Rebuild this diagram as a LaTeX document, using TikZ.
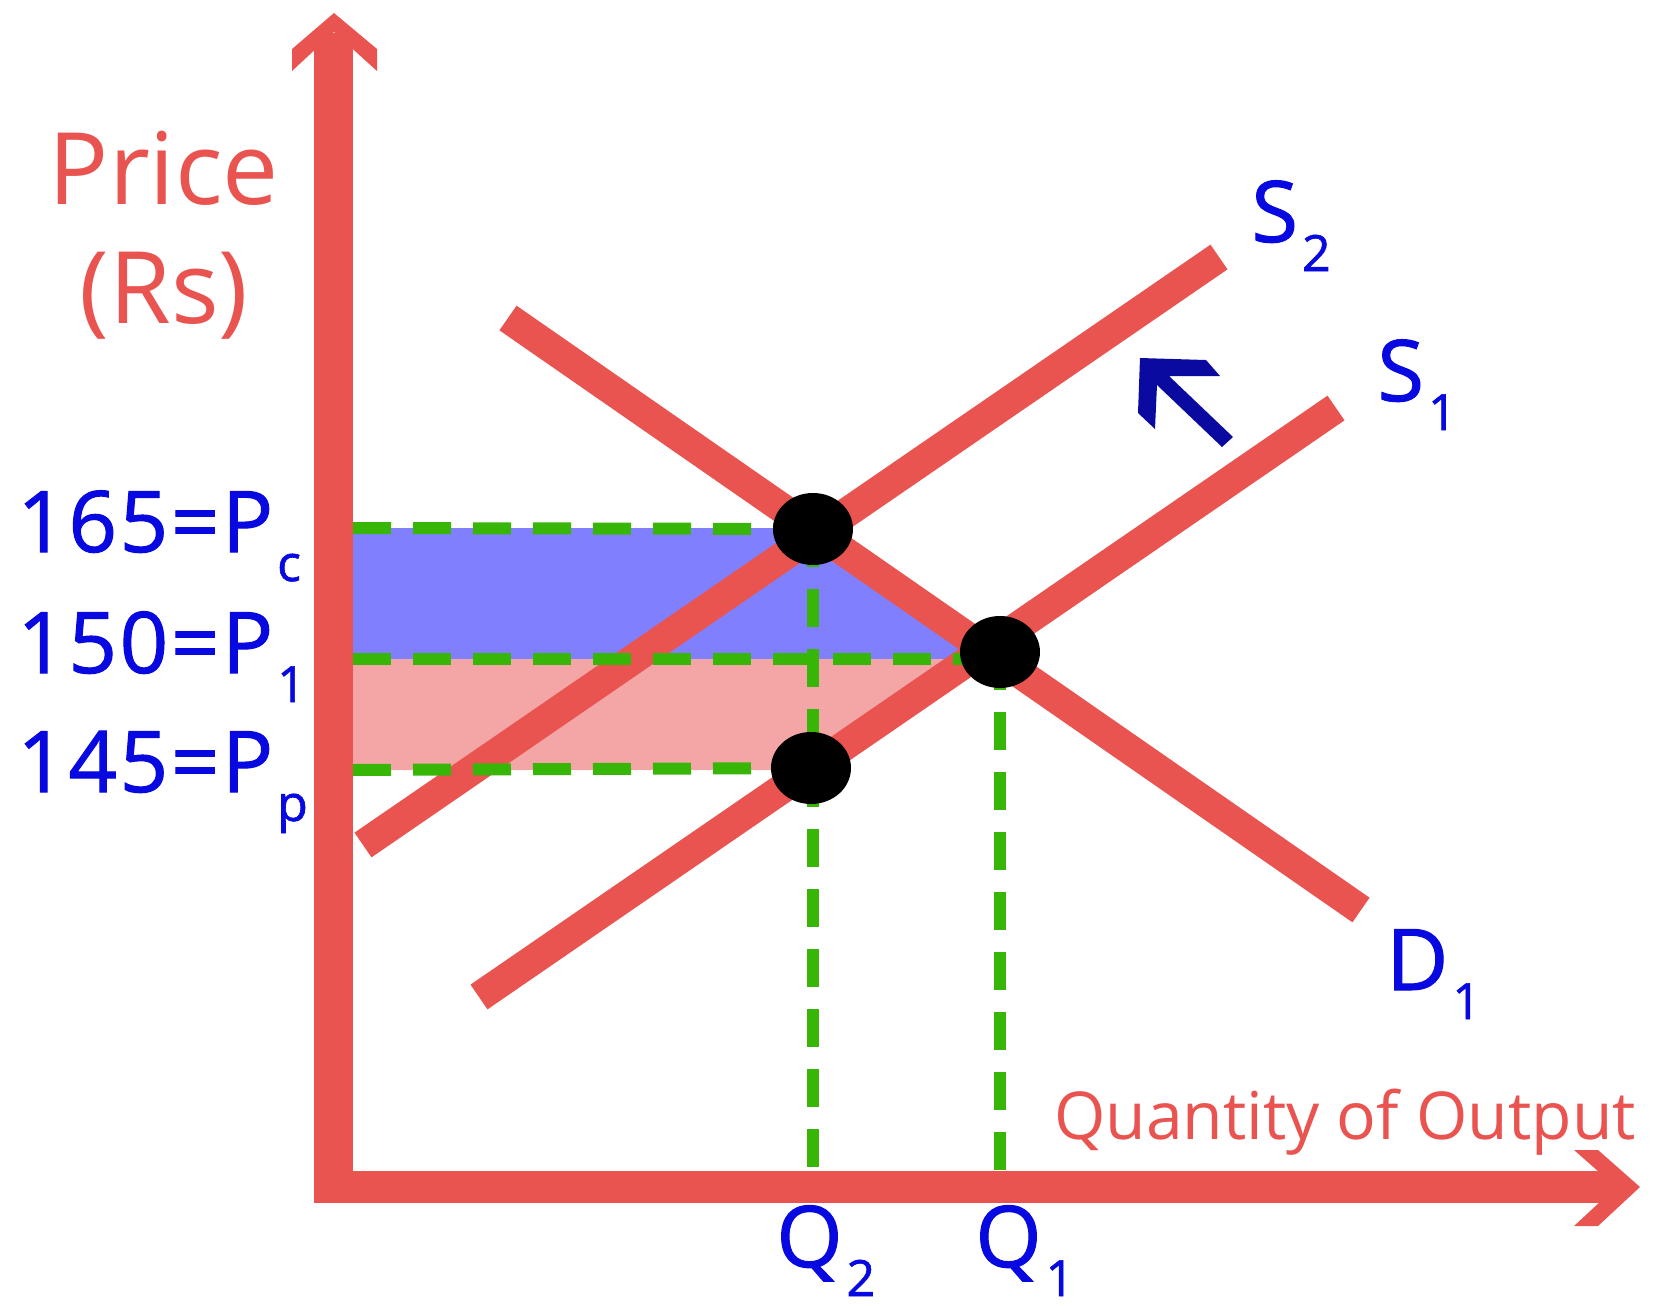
\documentclass[tikz,border=0pt]{standalone}
\usepackage{fontspec}
\setmainfont{Open Sans}
\newfontfamily\labelfont{Open Sans}[FakeBold=1.2,LetterSpace=3]
\definecolor{axred}{RGB}{233,84,80}
\definecolor{bluefill}{RGB}{128,128,255}
\definecolor{pinkfill}{RGB}{244,166,166}
\definecolor{guidegreen}{RGB}{56,182,8}
\definecolor{labelblue}{RGB}{8,8,224}
\definecolor{shiftblue}{RGB}{10,10,160}
\newcommand\lowsub[1]{\kern2pt\raisebox{-14.5pt}{\fontsize{25}{25}\selectfont #1}}
\tikzset{
  curve/.style={draw=axred,line width=15pt,line cap=butt},
  axisfill/.style={fill=axred},
  guide/.style={draw=guidegreen,line width=6pt,dash pattern=on 19pt off 11pt},
  dot/.style={ellipse,fill=black,minimum width=40pt,minimum height=36pt,inner sep=0pt},
  axlabel/.style={text=axred,inner sep=0pt,anchor=base},
  vlabel/.style={text=labelblue,inner sep=0pt,anchor=base west,font=\labelfont\fontsize{42.5}{42.5}\selectfont},
}
\usetikzlibrary{shapes.geometric}
\begin{document}
\begin{tikzpicture}[x=0.5pt,y=-0.5pt]
\useasboundingbox (0,0) rectangle (1661,1306);
% key points
\coordinate (d1a) at (508,318);
\coordinate (d1b) at (1361,910);
\coordinate (s2a) at (363,845);
\coordinate (s2b) at (1219,257);
\coordinate (s1a) at (479,997);
\coordinate (s1b) at (1336,408);
\coordinate (ecp) at (813,529);
\coordinate (e1p) at (1000,652);
\coordinate (epp) at (811,768);
\coordinate (yc) at (353,528);
\coordinate (y1) at (353,659);
\coordinate (yp) at (353,770);
\coordinate (p1end) at (985,659);
\coordinate (xtop) at (0,1171);
% surplus areas
\fill[bluefill] (353,528) -- (813,528) -- (999,659) -- (353,659) -- cycle;
\fill[pinkfill] (353,659) -- (971,659) -- (811,770) -- (353,770) -- cycle;
% axes
\fill[axisfill] (314,33) rectangle (353,1203);
\fill[axisfill] (334,13) -- (377,49) -- (377,71) -- (334,32) -- (292,71) -- (292,49) -- cycle;
\fill[axisfill] (314,1171) rectangle (1618,1203);
\fill[axisfill] (1640,1187) -- (1598,1150) -- (1574,1150) -- (1616,1187) -- (1574,1226) -- (1598,1226) -- cycle;
% curves
\draw[curve] (d1a) -- (d1b);
\draw[curve] (s2a) -- (s2b);
\draw[curve] (s1a) -- (s1b);
% guides
\draw[guide] (yc) -- (ecp);
\draw[guide] (y1) -- (p1end);
\draw[guide] (yp) -- (epp);
\draw[guide] (ecp) -- (ecp |- xtop);
\draw[guide] (e1p) -- (e1p |- xtop);
% equilibrium dots
\node[dot] (ec) at (ecp) {};
\node[dot] (e1) at (e1p) {};
\node[dot] (ep) at (epp) {};
% shift arrow
\fill[shiftblue] (1140,358) -- (1206,360) -- (1220,376) -- (1169,376) -- (1233,437) -- (1222,447) -- (1157,385) -- (1155,429) -- (1138,413) -- cycle;
% axis labels
\node[axlabel,font=\fontsize{50}{50}\selectfont] (price) at (164,204) {Price};
\node[axlabel,font=\fontsize{50}{50}\selectfont] (rs) at (164,323) {(Rs)};
\node[axlabel,font=\fontsize{33}{33}\selectfont] (qty) at (1345,1139) {Quantity of Output};
% price labels
\node[vlabel] (pc) at (17,552) {165=P\lowsub{c}};
\node[vlabel] (p1) at (17,673) {150=P\lowsub{1}};
\node[vlabel] (pp) at (17,792) {145=P\lowsub{p}};
% quantity labels
\node[vlabel] (q2) at (776,1267) {Q\lowsub{2}};
\node[vlabel] (q1) at (975,1267) {Q\lowsub{1}};
% curve labels
\node[vlabel] (s2l) at (1251,242) {S\lowsub{2}};
\node[vlabel] (s1l) at (1377,401) {S\lowsub{1}};
\node[vlabel] (d1l) at (1386,990) {D\lowsub{1}};
\end{tikzpicture}
\end{document}
